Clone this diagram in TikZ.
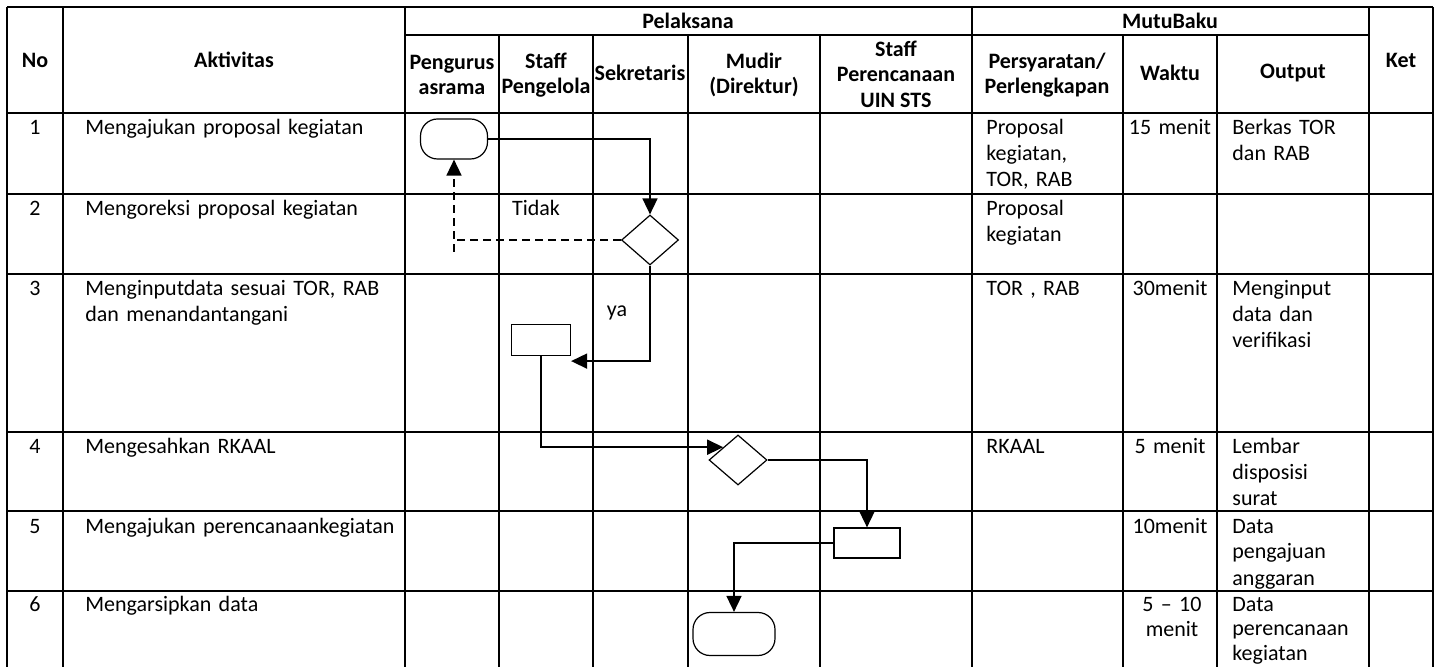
\documentclass[tikz,border=0pt]{standalone}
\usepackage{fontspec}
\setmainfont{Carlito}
\usetikzlibrary{arrows.meta,shapes}

\begin{document}
\begin{tikzpicture}[x=0.5pt,y=-0.5pt,
	every node/.style={font=\fontsize{11}{13}\selectfont, inner sep=0pt},
	head/.style={font=\fontsize{11}{12.8}\selectfont\bfseries, align=center},
	txt/.style={anchor=base west, text width=#1, align=left},
	mid/.style={anchor=base, text width=#1, align=center},
	grid/.style={line width=1pt, color=color3},
	term/.style={draw=color3, fill=white, line width=0.6pt, rectangle, rounded corners=8.5pt},
	decision/.style={draw=color3, fill=white, line width=0.6pt, diamond},
	proc/.style={draw=color3, fill=white, line width=0.6pt, rectangle},
	flow/.style={line width=0.8pt, color=color3, -{Triangle[length=8pt,width=7.5pt]}},
	back/.style={line width=0.8pt, color=color3, dash pattern=on 4pt off 2.5pt}]
	\definecolor{color3}{gray}{0.}
	\useasboundingbox (0,0) rectangle (1439,667);
	%% Grid ------
	\draw[grid] (7,7) -- (1433,7);
	\draw[grid] (405,35) -- (1369,35);
	\draw[grid] (7,113) -- (1433,113);
	\draw[grid] (7,194) -- (1433,194);
	\draw[grid] (7,274) -- (1433,274);
	\draw[grid] (7,432) -- (1433,432);
	\draw[grid] (7,511) -- (1433,511);
	\draw[grid] (7,591) -- (1433,591);
	\draw[grid] (7,7) -- (7,667);
	\draw[grid] (63,7) -- (63,667);
	\draw[grid] (405,7) -- (405,667);
	\draw[grid] (972,7) -- (972,667);
	\draw[grid] (1369,7) -- (1369,667);
	\draw[grid] (1433,7) -- (1433,667);
	\draw[grid] (499,35) -- (499,667);
	\draw[grid] (593,35) -- (593,667);
	\draw[grid] (688,35) -- (688,667);
	\draw[grid] (820,35) -- (820,667);
	\draw[grid] (1123,35) -- (1123,667);
	\draw[grid] (1217,35) -- (1217,667);
	%% Header ------
	\node[head] (hNo) at (35,60) {No};
	\node[head] (hAktivitas) at (234,60) {Aktivitas};
	\node[head] (hPelaksana) at (688,21) {Pelaksana};
	\node[head] (hMutuBaku) at (1170,21) {MutuBaku};
	\node[head] (hKet) at (1401,60) {Ket};
	\node[head] (hPengurus) at (452,75) {Pengurus\\asrama};
	\node[head] (hPengelola) at (546,75) {Staff\\Pengelola};
	\node[head] (hSekretaris) at (640,73) {Sekretaris};
	\node[head] (hMudir) at (754,75) {Mudir\\(Direktur)};
	\node[head] (hPerencanaan) at (896,74) {Staff\\Perencanaan\\UIN STS};
	\node[head] (hSyarat) at (1047,75) {Persyaratan/\\Perlengkapan};
	\node[head] (hWaktu) at (1170,73) {Waktu};
	\node[head] (hOutput) at (1293,73) {Output};
	%% Rows ------
	\node[anchor=base] (no1) at (35,135) {1};
	\node[anchor=base] (no2) at (35,216) {2};
	\node[anchor=base] (no3) at (35,296) {3};
	\node[anchor=base] (no4) at (35,454) {4};
	\node[anchor=base] (no5) at (35,533) {5};
	\node[anchor=base] (no6) at (35,611) {6};
	\node[txt=160pt] (akt1) at (85,135) {Mengajukan proposal kegiatan};
	\node[txt=160pt] (akt2) at (85,216) {Mengoreksi proposal kegiatan};
	\node[txt=160pt] (akt3) at (85,296) {Menginputdata sesuai TOR, RAB\\dan menandantangani};
	\node[txt=160pt] (akt4) at (85,454) {Mengesahkan RKAAL};
	\node[txt=160pt] (akt5) at (85,533) {Mengajukan perencanaankegiatan};
	\node[txt=160pt] (akt6) at (85,611) {Mengarsipkan data};
	\node[txt=66pt] (syarat1) at (986,135) {Proposal\\kegiatan,\\TOR, RAB};
	\node[txt=66pt] (syarat2) at (986,216) {Proposal\\kegiatan};
	\node[txt=66pt] (syarat3) at (986,296) {TOR , RAB};
	\node[txt=66pt] (syarat4) at (986,454) {RKAAL};
	\node[mid=44pt] (waktu1) at (1170,135) {15 menit};
	\node[mid=44pt] (waktu3) at (1170,296) {30menit};
	\node[mid=44pt] (waktu4) at (1170,454) {5 menit};
	\node[mid=44pt] (waktu5) at (1170,533) {10menit};
	\node[mid=44pt, font=\fontsize{11}{12.5}\selectfont] (waktu6) at (1172,611) {5 -- 10\\menit};
	\node[txt=66pt] (out1) at (1232,135) {Berkas TOR\\dan RAB};
	\node[txt=66pt] (out3) at (1232,296) {Menginput\\data dan\\verifikasi};
	\node[txt=66pt] (out4) at (1232,454) {Lembar\\disposisi\\surat};
	\node[txt=66pt] (out5) at (1232,533) {Data\\pengajuan\\anggaran};
	\node[txt=66pt, font=\fontsize{11}{12.4}\selectfont] (out6) at (1232,611) {Data\\perencanaan\\kegiatan};
	%% Flow ------
	\node[term, minimum width=33.5pt, minimum height=20pt] (term1) at (454,139) {};
	\node[decision, minimum width=28.5pt, minimum height=25pt] (dec1) at (650,240) {};
	\node[proc, minimum width=29.5pt, minimum height=15.5pt] (proc1) at (541,340) {};
	\node[decision, minimum width=29pt, minimum height=25pt] (dec2) at (738,460) {};
	\node[proc, minimum width=33pt, minimum height=15pt] (proc2) at (867,543) {};
	\node[term, minimum width=41pt, minimum height=21.5pt] (term2) at (734,634) {};
	\coordinate (loop) at (454,252);
	\node (tidak) at (536,208) {Tidak};
	\node (ya) at (617,313) {ya};
	\draw[flow] (term1.east) -| (dec1.north);
	\draw[back] (dec1.west) -- (dec1.west -| loop);
	\draw[back, -{Triangle[length=8pt,width=7.5pt]}] (loop) -- (term1.south);
	\draw[flow] (dec1.south) |- ([yshift=-2.5pt]proc1.south east);
	\draw[flow] (proc1.south) |- (dec2.north west);
	\draw[flow] (dec2.east) -| (proc2.north);
	\draw[flow] (proc2.west) -| (term2.north);
\end{tikzpicture}
\end{document}
